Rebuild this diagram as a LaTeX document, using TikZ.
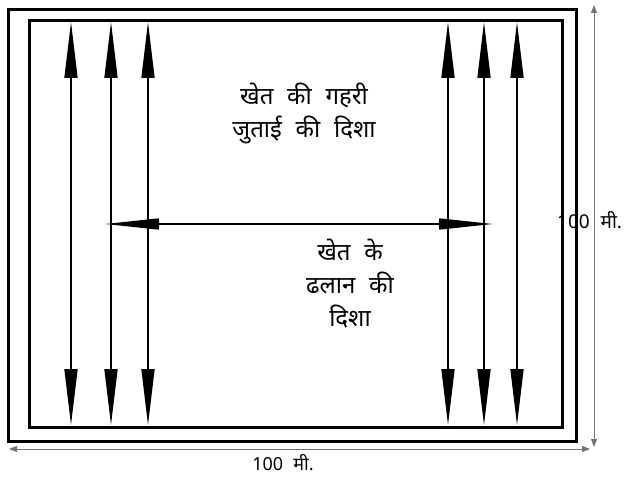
\documentclass[tikz,border=0pt]{standalone}
\usepackage{fontspec}
\newfontfamily\hindi[Script=Devanagari,WordSpace=2.2]{Noto Sans}
\usetikzlibrary{arrows.meta}
\begin{document}
\begin{tikzpicture}[x=1pt,y=-1pt,
  frame/.style={draw=black,line width=3pt},
  plough/.style={draw=black,line width=1.6pt,{Triangle[length=56pt,width=13pt]}-{Triangle[length=56pt,width=13pt]}},
  slope/.style={draw=black,line width=1.6pt,{Triangle[length=54pt,width=11pt]}-{Triangle[length=54pt,width=11pt]}},
  dim/.style={draw=black!55,line width=0.8pt,{Triangle[length=8pt,width=6pt]}-{Triangle[length=8pt,width=6pt]}},
  lbl/.style={font=\hindi\fontsize{24}{33}\selectfont,align=center,inner sep=0pt},
  dimlbl/.style={font=\hindi\fontsize{19}{20}\selectfont,inner sep=0pt}]
\useasboundingbox (0,0) rectangle (640,478);
\node[frame,draw,minimum width=568pt,minimum height=432pt,inner sep=0pt,anchor=north west] (outer) at (7,8) {};
\node[frame,draw,minimum width=533pt,minimum height=407pt,inner sep=0pt,anchor=north west] (inner) at (28,19) {};
\foreach \n/\x in {a/71,b/111,c/148,d/448,e/484,f/517}{
  \coordinate (\n t) at (\x,22);
  \coordinate (\n b) at (\x,425);
  \draw[plough] (\n b) -- (\n t);
}
\coordinate (sl) at (105,224);
\coordinate (sr) at (493,224);
\draw[slope] (sl) -- (sr);
\coordinate (vt) at (594,5);
\coordinate (vb) at (594,447);
\draw[dim] (vb) -- (vt);
\coordinate (hl) at (9,449);
\coordinate (hr) at (590,449);
\draw[dim] (hl) -- (hr);
\node[lbl] (deep) at (304,113) {खेत की गहरी\\जुताई की दिशा};
\node[lbl] (slopetxt) at (350,284) {खेत के\\ढलान की\\दिशा};
\node[dimlbl,anchor=west] (vlab) at (557,220) {100 मी.};
\node[dimlbl,font=\hindi\fontsize{18}{20}\selectfont] (hlab) at (283,463) {100 मी.};
\end{tikzpicture}
\end{document}
